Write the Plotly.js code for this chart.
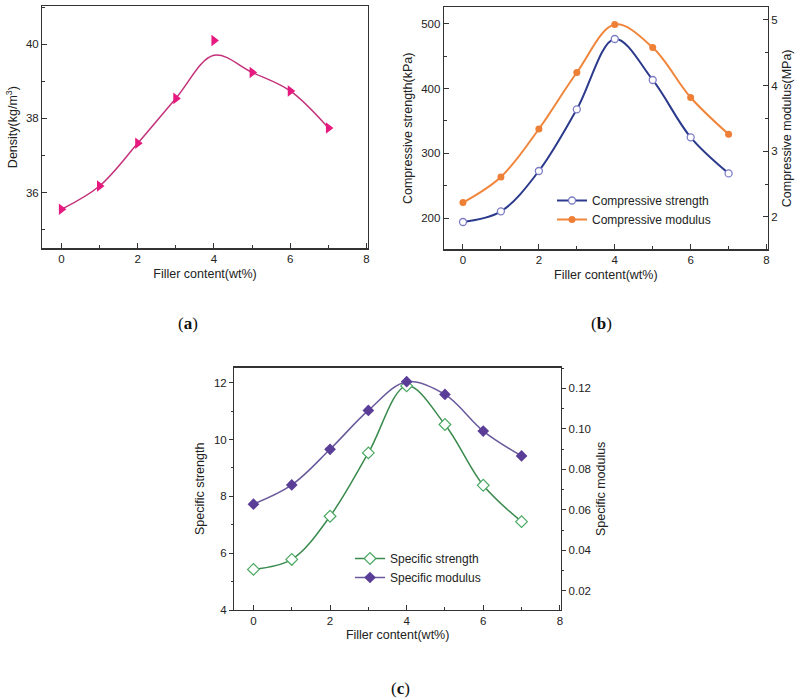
<!DOCTYPE html>
<html>
<head>
<meta charset="utf-8">
<script src="https://cdn.plot.ly/plotly-3.0.1.min.js"></script>
<style>html,body{margin:0;padding:0;background:#fff;}#chart{width:800px;height:699px;}</style>
</head>
<body>
<div id="chart"></div>
<script>
// ---- data ----
const filler = [0, 1, 2, 3, 4, 5, 6, 7];
// (a)
const density = [35.55, 36.18, 37.33, 38.54, 40.10, 39.24, 38.74, 37.74];
const densityFit = [35.55, 36.18, 37.33, 38.54, 39.70, 39.24, 38.74, 37.74];
// (b)
const compStrength = [193.8, 210.3, 272.7, 368.0, 476.8, 413.4, 324.7, 269.0];
const compModulus = [2.22, 2.61, 3.34, 4.20, 4.93, 4.58, 3.82, 3.26];
// (c)
const specStrength = [5.43, 5.78, 7.30, 9.53, 11.89, 10.53, 8.39, 7.11];
const specModulus = [0.0628, 0.0723, 0.0899, 0.1091, 0.1233, 0.1170, 0.0989, 0.0866];
const panelLabels = ['(<b>a</b>)', '(<b>b</b>)', '(<b>c</b>)'];

const W = 800, H = 699;
const fx = p => p / W;
const fy = p => (H - p) / H;

const FONT = 'Arial, "Liberation Sans", sans-serif';
const AX = '#333333';
const tickFont = {family: FONT, size: 11.5, color: '#222'};
const titleFont = {family: FONT, size: 12.5, color: '#222'};

function xAxis(domain, anchor) {
  return {
    domain: domain, anchor: anchor, range: [-0.5, 8.03],
    tickmode: 'linear', tick0: 0, dtick: 2,
    ticks: 'inside', ticklen: 5, tickcolor: AX, tickwidth: 1,
    minor: {ticks: 'inside', ticklen: 3, dtick: 1, tickcolor: AX, tickwidth: 1, showgrid: false},
    showline: true, linecolor: AX, linewidth: 1.3, mirror: true,
    showgrid: false, zeroline: false, automargin: false,
    tickfont: tickFont,
    title: {text: 'Filler content(wt%)', font: titleFont, standoff: 4}
  };
}

const traces = [
  // (a)
  {x: filler, y: densityFit, xaxis: 'x', yaxis: 'y', mode: 'lines', showlegend: false,
   line: {color: '#c3317a', width: 1.5, shape: 'spline', smoothing: 1}, hoverinfo: 'skip'},
  {x: filler, y: density, xaxis: 'x', yaxis: 'y', mode: 'markers', showlegend: false,
   marker: {symbol: 'triangle-right', size: 10, color: '#e6197f'}},
  // (b)
  {x: filler, y: compStrength, xaxis: 'x2', yaxis: 'y2', mode: 'lines+markers', name: 'Compressive strength',
   legend: 'legend',
   line: {color: '#2c3a8c', width: 2, shape: 'spline', smoothing: 1},
   marker: {symbol: 'circle', size: 7, color: '#ffffff', line: {color: '#7c7cc6', width: 1.3}}},
  {x: filler, y: compModulus, xaxis: 'x2', yaxis: 'y3', mode: 'lines+markers', name: 'Compressive modulus',
   legend: 'legend',
   line: {color: '#f0853c', width: 2, shape: 'spline', smoothing: 1},
   marker: {symbol: 'circle', size: 7, color: '#ee7f36'}},
  // (c)
  {x: filler, y: specStrength, xaxis: 'x3', yaxis: 'y4', mode: 'lines+markers', name: 'Specific strength',
   legend: 'legend2',
   line: {color: '#3a8a4e', width: 1.5, shape: 'spline', smoothing: 1},
   marker: {symbol: 'diamond', size: 9, color: '#ffffff', line: {color: '#49a862', width: 1.2}}},
  {x: filler, y: specModulus, xaxis: 'x3', yaxis: 'y5', mode: 'lines+markers', name: 'Specific modulus',
   legend: 'legend2',
   line: {color: '#6a5a9c', width: 1.5, shape: 'spline', smoothing: 1},
   marker: {symbol: 'diamond', size: 9, color: '#5a3d96'}}
];

const layout = {
  width: W, height: H,
  margin: {l: 0, r: 0, t: 0, b: 0},
  paper_bgcolor: '#ffffff', plot_bgcolor: '#ffffff',
  font: {family: FONT, color: '#222'},
  // (a)
  xaxis: xAxis([fx(42.3), fx(367.7)], 'y'),
  yaxis: {
    domain: [fy(248.3), fy(6)], anchor: 'x', range: [34.5, 41.03],
    tickmode: 'linear', tick0: 0, dtick: 2,
    ticks: 'inside', ticklen: 5, tickcolor: AX,
    minor: {ticks: 'inside', ticklen: 3, dtick: 1, tickcolor: AX, showgrid: false},
    showline: true, linecolor: AX, linewidth: 1.3, mirror: true,
    showgrid: false, zeroline: false, automargin: false, tickfont: tickFont,
    title: {text: 'Density(kg/m<sup>3</sup>)', font: titleFont, standoff: 5}
  },
  // (b)
  xaxis2: xAxis([fx(444), fx(767.7)], 'y2'),
  yaxis2: {
    domain: [fy(249.3), fy(7.3)], anchor: 'x2', range: [151.6, 525.8],
    tickmode: 'linear', tick0: 0, dtick: 100,
    ticks: 'inside', ticklen: 5, tickcolor: AX,
    minor: {ticks: 'inside', ticklen: 3, dtick: 50, tickcolor: AX, showgrid: false},
    showline: true, linecolor: AX, linewidth: 1.3, mirror: false,
    showgrid: false, zeroline: false, automargin: false, tickfont: tickFont,
    title: {text: 'Compressive strength(kPa)', font: titleFont, standoff: 5}
  },
  yaxis3: {
    domain: [fy(249.3), fy(7.3)], anchor: 'x2', overlaying: 'y2', side: 'right', range: [1.508, 5.193],
    tickmode: 'linear', tick0: 0, dtick: 1,
    ticks: 'inside', ticklen: 5, tickcolor: AX,
    minor: {ticks: 'inside', ticklen: 3, dtick: 0.5, tickcolor: AX, showgrid: false},
    showline: true, linecolor: AX, linewidth: 1.3,
    showgrid: false, zeroline: false, automargin: false, tickfont: tickFont,
    title: {text: 'Compressive modulus(MPa)', font: titleFont, standoff: 5}
  },
  // (c)
  xaxis3: xAxis([fx(234.3), fx(561)], 'y4'),
  yaxis4: {
    domain: [fy(610), fy(367.7)], anchor: 'x3', range: [4, 12.53],
    tickmode: 'linear', tick0: 0, dtick: 2,
    ticks: 'outside', ticklen: 4, tickcolor: AX,
    minor: {ticks: 'outside', ticklen: 2, dtick: 1, tickcolor: AX, showgrid: false},
    showline: true, linecolor: AX, linewidth: 1.3, mirror: false,
    showgrid: false, zeroline: false, automargin: false, tickfont: tickFont,
    title: {text: 'Specific strength', font: titleFont, standoff: 6}
  },
  yaxis5: {
    domain: [fy(610), fy(367.7)], anchor: 'x3', overlaying: 'y4', side: 'right', range: [0.0105, 0.1302],
    tickmode: 'linear', tick0: 0, dtick: 0.02, tickformat: '.2f',
    ticks: 'outside', ticklen: 4, tickcolor: AX,
    minor: {ticks: 'outside', ticklen: 2, dtick: 0.01, tickcolor: AX, showgrid: false},
    showline: true, linecolor: AX, linewidth: 1.3,
    showgrid: false, zeroline: false, automargin: false, tickfont: tickFont,
    title: {text: 'Specific modulus', font: titleFont, standoff: 5}
  },
  legend: {
    x: fx(552), y: fy(186), xanchor: 'left', yanchor: 'top',
    bgcolor: 'rgba(0,0,0,0)', borderwidth: 0,
    font: {family: FONT, size: 12, color: '#222'}, tracegroupgap: 0
  },
  legend2: {
    x: fx(350), y: fy(544), xanchor: 'left', yanchor: 'top',
    bgcolor: 'rgba(0,0,0,0)', borderwidth: 0,
    font: {family: FONT, size: 12, color: '#222'}, tracegroupgap: 0
  },
  annotations: [
    {text: panelLabels[0], x: fx(188), y: fy(323), xref: 'paper', yref: 'paper', showarrow: false,
     xanchor: 'center', yanchor: 'middle', font: {family: '"Liberation Serif", "DejaVu Serif", serif', size: 17, color: '#111'}},
    {text: panelLabels[1], x: fx(601), y: fy(323), xref: 'paper', yref: 'paper', showarrow: false,
     xanchor: 'center', yanchor: 'middle', font: {family: '"Liberation Serif", "DejaVu Serif", serif', size: 17, color: '#111'}},
    {text: panelLabels[2], x: fx(400), y: fy(688), xref: 'paper', yref: 'paper', showarrow: false,
     xanchor: 'center', yanchor: 'middle', font: {family: '"Liberation Serif", "DejaVu Serif", serif', size: 17, color: '#111'}}
  ]
};

Plotly.newPlot('chart', traces, layout, {displayModeBar: false, staticPlot: true});
</script>
</body>
</html>
